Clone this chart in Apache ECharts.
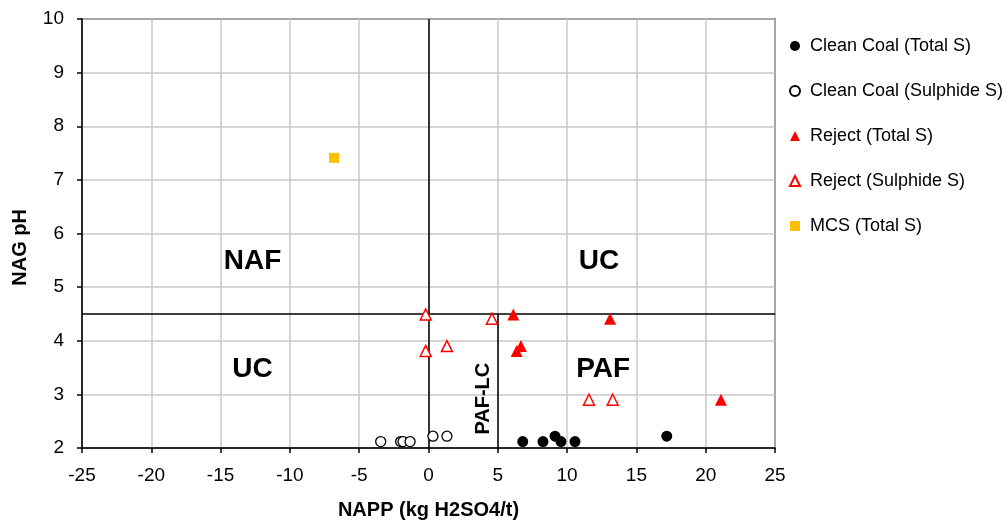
<!DOCTYPE html>
<html>
<head>
<meta charset="utf-8">
<script src="https://cdn.jsdelivr.net/npm/echarts@6/dist/echarts.min.js"></script>
<style>html,body{margin:0;padding:0;background:#fff}#c{width:1008px;height:524px}</style>
</head>
<body>
<div id="c"></div>
<script>
// ---- data ----
var cleanCoalTotal = [[6.8,2.12],[8.26,2.12],[9.13,2.22],[9.56,2.12],[10.57,2.12],[17.19,2.22]];
var cleanCoalSulphide = [[-3.45,2.12],[-2.01,2.12],[-1.84,2.12],[-1.33,2.12],[0.32,2.22],[1.33,2.22]];
var rejectTotal = [[6.12,4.49],[13.1,4.41],[6.67,3.9],[6.36,3.81],[21.1,2.9]];
var rejectSulphide = [[-0.2,4.49],[4.58,4.41],[-0.2,3.81],[1.33,3.9],[11.58,2.9],[13.29,2.9]];
var mcsTotal = [[-6.82,7.41]];
var seriesNames = ['Clean Coal (Total S)','Clean Coal (Sulphide S)','Reject (Total S)','Reject (Sulphide S)','MCS (Total S)'];
var zoneLabels = [
  {name:'NAF', value:[-12.7,5.48]},
  {name:'UC', value:[12.3,5.48]},
  {name:'UC', value:[-12.7,3.47]},
  {name:'PAF', value:[12.6,3.47]}
];
var pafLcLabel = [{name:'PAF-LC', value:[4.0,2.92]}];
var nagThreshold = 4.5;
var nappZero = 0;
var pafLcBoundary = 5;
var xMin = -25, xMax = 25, xStep = 5;
var yMin = 2, yMax = 10, yStep = 1;
var xTitle = 'NAPP (kg H2SO4/t)';
var yTitle = 'NAG pH';

var FONT = '"Liberation Sans", Arial, sans-serif';
var chart = echarts.init(document.getElementById('c'));
chart.setOption({
  animation: false,
  textStyle: {fontFamily: FONT},
  grid: {left: 82, right: 233, top: 19, bottom: 76, containLabel: false, outerBoundsMode: 'none',
         show: true, borderColor: '#000', borderWidth: 1.5, backgroundColor: 'transparent'},
  legend: {
    orient: 'vertical', left: 789, top: 37, itemGap: 27, padding: 0,
    itemWidth: 10, itemHeight: 10,
    textStyle: {fontSize: 18, color: '#000', fontFamily: FONT, padding: [0, 0, 0, 5]},
    data: seriesNames
  },
  graphic: [{
    type: 'text', left: 10, top: 209, rotation: Math.PI / 2,
    style: {text: yTitle, font: 'bold 20px ' + FONT, fill: '#000'}
  }],
  xAxis: {
    type: 'value', min: xMin, max: xMax, interval: xStep,
    name: xTitle, nameLocation: 'middle', nameGap: 52,
    nameTextStyle: {fontSize: 20, fontWeight: 'bold', color: '#000', fontFamily: FONT},
    axisLine: {show: true, onZero: false, lineStyle: {color: '#000', width: 1.5}},
    axisTick: {show: true, length: 5, lineStyle: {color: '#000', width: 1.5}},
    axisLabel: {fontSize: 19, color: '#000', margin: 18, fontFamily: FONT},
    splitLine: {show: true, lineStyle: {color: '#c8c8c8', width: 1.5}}
  },
  yAxis: {
    type: 'value', min: yMin, max: yMax, interval: yStep,
    axisLine: {show: true, onZero: false, lineStyle: {color: '#000', width: 1.5}},
    axisTick: {show: true, length: 5, lineStyle: {color: '#000', width: 1.5}},
    axisLabel: {fontSize: 19, color: '#000', margin: 18, fontFamily: FONT},
    splitLine: {show: true, lineStyle: {color: '#c8c8c8', width: 1.5}}
  },
  series: [
    {name: seriesNames[0], type: 'scatter', symbol: 'circle', symbolSize: 11, z: 5,
     itemStyle: {color: '#000', opacity: 1}, data: cleanCoalTotal},
    {name: seriesNames[1], type: 'scatter', symbol: 'circle', symbolSize: 10, z: 5,
     itemStyle: {color: '#fff', borderColor: '#000', borderWidth: 1.3, opacity: 1}, data: cleanCoalSulphide},
    {name: seriesNames[2], type: 'scatter', symbol: 'triangle', symbolSize: 12, z: 5,
     itemStyle: {color: '#ff0000', opacity: 1}, data: rejectTotal},
    {name: seriesNames[3], type: 'scatter', symbol: 'triangle', symbolSize: 11, z: 5,
     itemStyle: {color: '#fff', borderColor: '#ff0000', borderWidth: 1.5, opacity: 1}, data: rejectSulphide},
    {name: seriesNames[4], type: 'scatter', symbol: 'rect', symbolSize: 10, z: 5,
     itemStyle: {color: '#ffc000', opacity: 1}, data: mcsTotal},
    {name: 'zones', type: 'scatter', symbolSize: 0, silent: true, z: 3,
     itemStyle: {opacity: 1},
     label: {show: true, position: 'inside', formatter: '{b}', fontSize: 28, fontWeight: 'bold', color: '#000', fontFamily: FONT},
     data: zoneLabels,
     markLine: {
       silent: true, symbol: 'none', animation: false,
       label: {show: false},
       lineStyle: {color: '#000', width: 1.5, type: 'solid', opacity: 1},
       data: [
         {yAxis: nagThreshold},
         {xAxis: nappZero},
         [{coord: [pafLcBoundary, yMin]}, {coord: [pafLcBoundary, nagThreshold]}]
       ]
     }},
    {name: 'pafLc', type: 'scatter', symbolSize: 0, silent: true, z: 3,
     itemStyle: {opacity: 1},
     label: {show: true, position: 'inside', formatter: '{b}', rotate: 90, fontSize: 20, fontWeight: 'bold', color: '#000', fontFamily: FONT},
     data: pafLcLabel}
  ]
});
</script>
</body>
</html>
